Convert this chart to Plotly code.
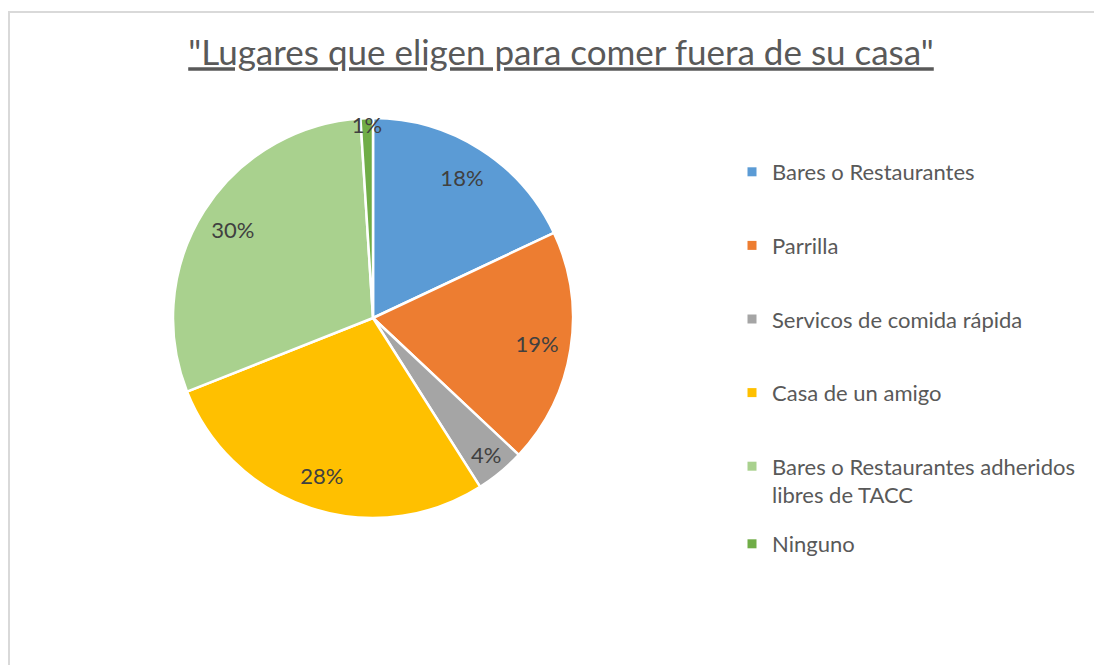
import plotly.graph_objects as go

categories = [
    "Bares o Restaurantes",
    "Parrilla",
    "Servicos de comida rápida",
    "Casa de un amigo",
    "Bares o Restaurantes adheridos<br>libres de TACC",
    "Ninguno",
]
values = [18, 19, 4, 28, 30, 1]
colors = ["#5B9BD5", "#ED7D31", "#A5A5A5", "#FFC000", "#A9D18E", "#70AD47"]
title_text = '<u>"Lugares que eligen para comer fuera de su casa"</u>'

W, H = 1102, 665
OFF = 8  # default page body margin
FONT = "Lato"


def px(x):
    return (x - OFF) / W


def py(y):
    return 1 - (y - OFF) / H


pie_domain = dict(x=[px(173), px(573)], y=[py(518), py(118)])

fig = go.Figure()
# slices
fig.add_trace(go.Pie(
    labels=categories,
    values=values,
    marker=dict(colors=colors, line=dict(color="white", width=2.5)),
    sort=False,
    direction="clockwise",
    rotation=0,
    textinfo="none",
    showlegend=False,
    hoverinfo="label+percent",
    domain=pie_domain,
))
# percentage labels placed in the outer ring of the same pie
fig.add_trace(go.Pie(
    labels=categories,
    values=values,
    hole=0.66,
    marker=dict(colors=["rgba(0,0,0,0)"] * len(values), line=dict(width=0)),
    sort=False,
    direction="clockwise",
    rotation=0,
    texttemplate="%{percent:.0%}",
    textposition="inside",
    insidetextorientation="horizontal",
    textfont=dict(family=FONT, size=22, color="#404040"),
    showlegend=False,
    hoverinfo="skip",
    domain=pie_domain,
))

for cat, col in zip(categories, colors):
    fig.add_trace(go.Scatter(
        x=[None], y=[None], mode="markers",
        marker=dict(symbol="square", size=9, color=col),
        name=cat, legendgroup=cat, showlegend=True,
        legend="legend2" if cat == "Ninguno" else "legend",
    ))

legend_style = dict(
    x=px(732), xanchor="left",
    yanchor="top",
    font=dict(family=FONT, size=22, color="#595959"),
    tracegroupgap=42,
    valign="top",
    bgcolor="rgba(0,0,0,0)",
)

fig.update_layout(
    width=W, height=H,
    margin=dict(l=0, r=0, t=0, b=0),
    paper_bgcolor="white",
    plot_bgcolor="white",
    xaxis=dict(visible=False),
    yaxis=dict(visible=False),
    uniformtext=dict(minsize=22, mode="show"),
    title=dict(
        text=title_text,
        x=px(561), xanchor="center",
        y=py(53), yanchor="middle",
        font=dict(family=FONT, size=35, color="#595959"),
    ),
    legend=dict(y=py(151), **legend_style),
    legend2=dict(y=py(523), **legend_style),
    shapes=[dict(
        type="rect", xref="paper", yref="paper",
        x0=px(9), x1=1.02, y0=-0.02, y1=py(12),
        line=dict(color="#D9D9D9", width=2),
        fillcolor="rgba(0,0,0,0)",
        layer="below",
    )],
)

fig.write_html("out.html")
